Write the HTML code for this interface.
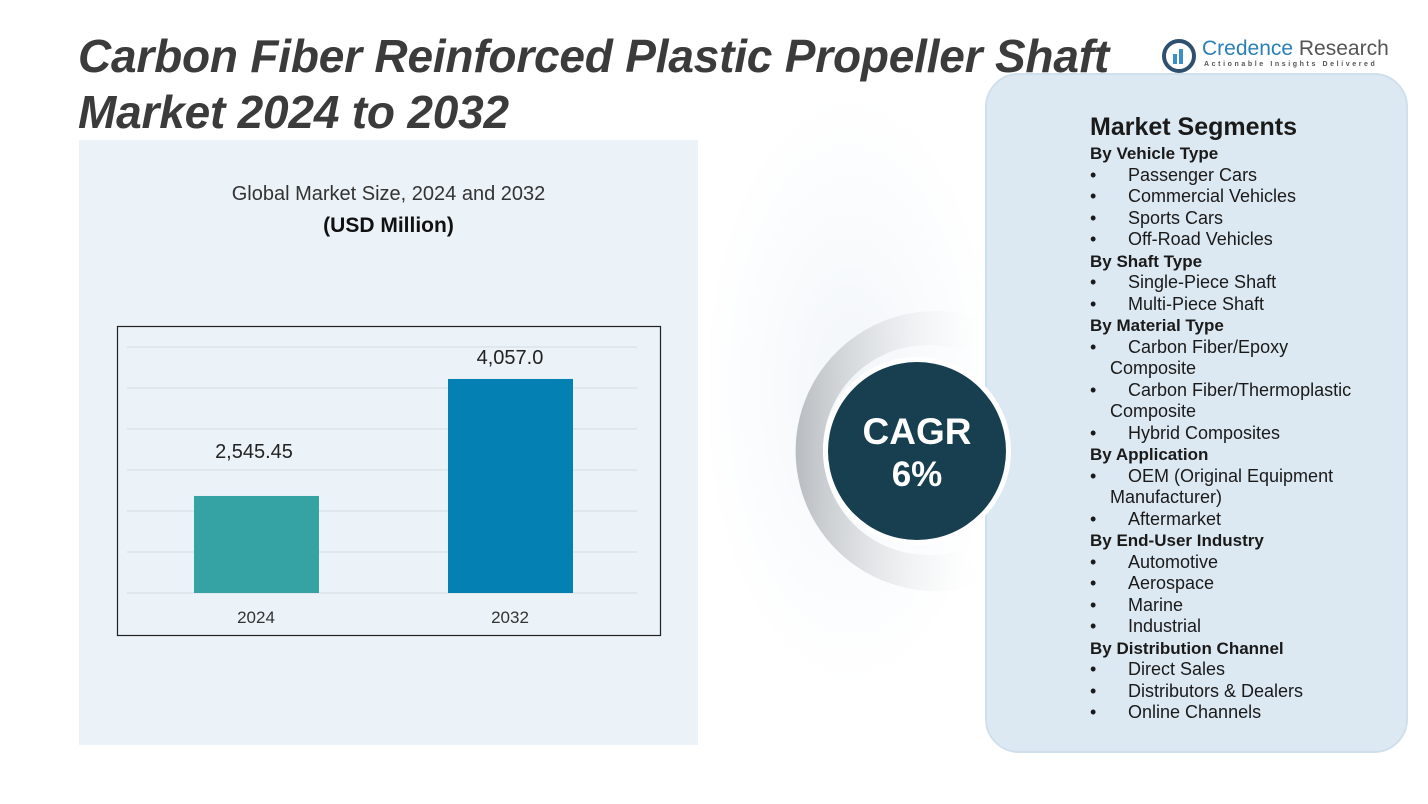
<!DOCTYPE html>
<html><head><meta charset="utf-8"><style>
body{margin:0;width:1428px;height:804px;overflow:hidden;background:#fff;font-family:"Liberation Sans",sans-serif;position:relative}
.abs{position:absolute}
.title{left:78px;top:28px;font-size:46px;font-weight:bold;font-style:italic;color:#3b3b3b;line-height:56px;letter-spacing:-0.2px;white-space:nowrap}
#seg{left:1090px;top:111px;color:#1a1a1a;font-size:18px;line-height:21.5px}
#seg .h{font-weight:bold;font-size:17px}
#seg .b{padding-left:38px;text-indent:-38px;position:relative}
#seg .b span{display:inline-block;width:38px;text-indent:0}
</style></head><body>
<div class="abs" style="left:700px;top:90px;width:300px;height:600px;background:radial-gradient(ellipse at 50% 50%,#f2f6f9 0%,#fff 70%)"></div>
<div class="abs" style="left:79px;top:140px;width:619px;height:605px;background:#ebf2f8"></div>
<div class="abs title">Carbon Fiber Reinforced Plastic Propeller Shaft<br>Market 2024 to 2032</div>
<div class="abs" style="left:1162px;top:38px;width:250px;height:36px">
<svg width="36" height="36" class="abs" style="left:0;top:0"><circle cx="17" cy="18" r="15" fill="none" stroke="#2f4f6f" stroke-width="4"/><rect x="11" y="16" width="4" height="10" fill="#3a8fc8"/><rect x="17" y="11" width="4" height="15" fill="#3a8fc8"/></svg>
<div class="abs" style="left:40px;top:-1px;font-size:21px;color:#2b7fb8;white-space:nowrap">Credence <span style="color:#555">Research</span></div>
<div class="abs" style="left:42px;top:23px;font-size:7px;letter-spacing:2.6px;color:#555;white-space:nowrap;font-weight:bold">Actionable Insights Delivered</div>
</div>
<div class="abs" style="left:79px;width:619px;top:183px;text-align:center;font-size:20px;color:#333">Global Market Size, 2024 and 2032</div>
<div class="abs" style="left:79px;width:619px;top:214px;text-align:center;font-size:21px;font-weight:bold;color:#111">(USD Million)</div>
<svg class="abs" style="left:0;top:0" width="1428" height="804">
<rect x="117.5" y="326.5" width="543" height="309" fill="none" stroke="#222" stroke-width="1.2"/>
<g id="grid"></g><g id="bars"></g>
</svg>
<div class="abs" style="left:985px;top:73px;width:423px;height:680px;background:#dde9f2;border:2px solid #cfe0ec;border-radius:34px;box-sizing:border-box"></div>
<svg class="abs" style="left:760px;top:300px" width="280" height="300">
<defs><linearGradient id="g" x1="0" x2="1"><stop offset="0" stop-color="#a8adb2"/><stop offset="1" stop-color="#fff" stop-opacity="0"/></linearGradient></defs>
<path d="M 230 22 A 140 140 0 1 0 230 280 L 200 250 A 105 105 0 1 1 200 50 Z" fill="url(#g)" opacity="0.8"/>
<circle cx="157" cy="151" r="94" fill="#fff"/>
<circle cx="157" cy="151" r="89" fill="#173f50"/>
<text x="157" y="144" text-anchor="middle" font-size="37" font-weight="bold" fill="#fff" font-family="Liberation Sans, sans-serif">CAGR</text>
<text x="157" y="186" text-anchor="middle" font-size="35" font-weight="bold" fill="#fff" font-family="Liberation Sans, sans-serif">6%</text>
</svg>
<div class="abs" id="seg">
<div style="font-size:25px;font-weight:bold;line-height:32px">Market Segments</div>
<div class="h">By Vehicle Type</div>
<div class="b"><span>•</span>Passenger Cars</div>
<div class="b"><span>•</span>Commercial Vehicles</div>
<div class="b"><span>•</span>Sports Cars</div>
<div class="b"><span>•</span>Off-Road Vehicles</div>
<div class="h">By Shaft Type</div>
<div class="b"><span>•</span>Single-Piece Shaft</div>
<div class="b"><span>•</span>Multi-Piece Shaft</div>
<div class="h">By Material Type</div>
<div class="b" style="padding-left:20px;text-indent:-20px"><span style="width:38px">•</span>Carbon Fiber/Epoxy<br>Composite</div>
<div class="b" style="padding-left:20px;text-indent:-20px"><span style="width:38px">•</span>Carbon Fiber/Thermoplastic<br>Composite</div>
<div class="b"><span>•</span>Hybrid Composites</div>
<div class="h">By Application</div>
<div class="b" style="padding-left:20px;text-indent:-20px"><span style="width:38px">•</span>OEM (Original Equipment<br>Manufacturer)</div>
<div class="b"><span>•</span>Aftermarket</div>
<div class="h">By End-User Industry</div>
<div class="b"><span>•</span>Automotive</div>
<div class="b"><span>•</span>Aerospace</div>
<div class="b"><span>•</span>Marine</div>
<div class="b"><span>•</span>Industrial</div>
<div class="h">By Distribution Channel</div>
<div class="b"><span>•</span>Direct Sales</div>
<div class="b"><span>•</span>Distributors &amp; Dealers</div>
<div class="b"><span>•</span>Online Channels</div>
</div>
<script>
const categories=["2024","2032"];
const values=[2545.45,4057.0];
const valueLabels=["2,545.45","4,057.0"];
const colors=["#35a3a3","#0580b3"];
const yMin=1292,yMax=4470,baseY=593,topY=347;
const y=v=>baseY-(v-yMin)/(yMax-yMin)*(baseY-topY);
const x=i=>194+i*254;
const ns="http://www.w3.org/2000/svg";
const grid=document.getElementById('grid'),bars=document.getElementById('bars');
for(let k=0;k<=6;k++){const gy=baseY-k*(baseY-topY)/6;
const l=document.createElementNS(ns,'line');


l.setAttribute('x1',127);l.setAttribute('x2',637);l.setAttribute('y1',gy);l.setAttribute('y2',gy);l.setAttribute('stroke','#d6dde3');grid.appendChild(l);}
values.forEach((v,i)=>{
const r=document.createElementNS(ns,'rect');


r.setAttribute('x',x(i));r.setAttribute('width',125);r.setAttribute('y',y(v));r.setAttribute('height',baseY-y(v));r.setAttribute('fill',colors[i]);bars.appendChild(r);
const t=document.createElementNS(ns,'text');


t.setAttribute('x',x(i)+62-(i==0?2:0));t.setAttribute('y',y(v)-(i==0?38:15));t.setAttribute('text-anchor','middle');t.setAttribute('font-size','20');t.setAttribute('fill','#222');t.textContent=valueLabels[i];bars.appendChild(t);
const c=document.createElementNS(ns,'text');


c.setAttribute('x',x(i)+62);c.setAttribute('y',623);c.setAttribute('text-anchor','middle');c.setAttribute('font-size','17');c.setAttribute('fill','#333');c.textContent=categories[i];bars.appendChild(c);
});
</script>
</body></html>
